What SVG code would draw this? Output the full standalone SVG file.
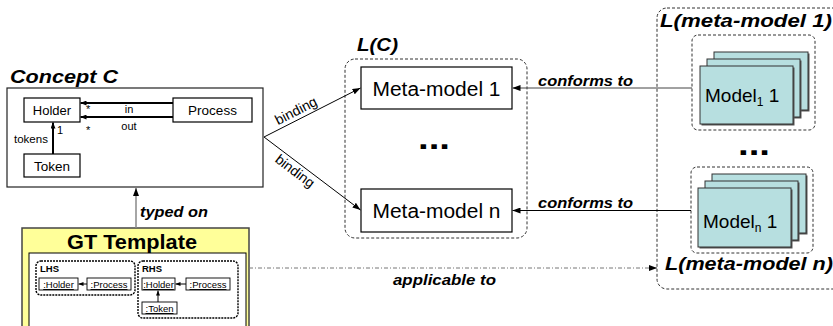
<svg xmlns="http://www.w3.org/2000/svg" width="833" height="326" viewBox="0 0 833 326">
  <defs>
    <marker id="arr" viewBox="0 0 8 6" refX="8" refY="3" markerWidth="8" markerHeight="6" markerUnits="userSpaceOnUse" orient="auto">
      <path d="M0,0 L8,3 L0,6 z" fill="#000"/>
    </marker>
    <marker id="arrS" viewBox="0 0 6 5" refX="6" refY="2.5" markerWidth="6" markerHeight="5" markerUnits="userSpaceOnUse" orient="auto">
      <path d="M0,0 L6,2.5 L0,5 z" fill="#000"/>
    </marker>
    <marker id="arrT" viewBox="0 0 5 4" refX="5" refY="2" markerWidth="5" markerHeight="4" markerUnits="userSpaceOnUse" orient="auto">
      <path d="M0,0 L5,2 L0,4 z" fill="#000"/>
    </marker>
  </defs>
  <style>
    text{font-family:"Liberation Sans",Arial,Helvetica,sans-serif;fill:#000}
    .bi{font-weight:bold;font-style:italic}
    .box{fill:#fff;stroke:#000;stroke-width:1.2}
    .dash{fill:none;stroke:#333;stroke-width:1;stroke-dasharray:3 2}
    .dot{fill:none;stroke:#000;stroke-width:1.4;stroke-dasharray:2 1}
    .card{fill:#b7dfe0;stroke:#333;stroke-width:1}
    .shadow{fill:#555}
    .sm{fill:#fff;stroke:#000;stroke-width:0.9}
    .u{font-size:9.5px;text-decoration:underline}
    .line{fill:none;stroke:#000;stroke-width:1}
  </style>

  <rect width="833" height="326" fill="#fff"/>

  <!-- Concept C -->
  <g id="concept-c">
    <text class="bi" x="10" y="83" font-size="18" textLength="108" lengthAdjust="spacingAndGlyphs">Concept C</text>
    <rect x="7" y="88" width="256" height="99" fill="#fff" stroke="#222" stroke-width="1.2"/>
    <rect class="box" x="24" y="98" width="56" height="24"/>
    <text x="52" y="115" font-size="13" text-anchor="middle">Holder</text>
    <rect class="box" x="173" y="98" width="79" height="24"/>
    <text x="212.5" y="115" font-size="13.5" text-anchor="middle">Process</text>
    <rect class="box" x="24" y="154" width="56" height="23"/>
    <text x="52" y="171" font-size="13.5" text-anchor="middle">Token</text>
    <g stroke="#000" stroke-width="2" fill="none">
      <line x1="173" y1="103" x2="80.5" y2="103" marker-end="url(#arrS)"/>
      <line x1="173" y1="117" x2="80.5" y2="117" marker-end="url(#arrS)"/>
      <line x1="53" y1="154" x2="53" y2="122.5" marker-end="url(#arrS)"/>
    </g>
    <text x="129" y="113" font-size="11" text-anchor="middle">in</text>
    <text x="129" y="130" font-size="11" text-anchor="middle">out</text>
    <text x="86" y="113" font-size="11">*</text>
    <text x="86" y="134" font-size="11">*</text>
    <text x="57" y="134" font-size="11">1</text>
    <text x="14" y="143" font-size="11.5">tokens</text>
  </g>

  <!-- GT Template -->
  <g id="gt-template">
    <rect x="22" y="228" width="227" height="110" fill="#ffff99" stroke="#444" stroke-width="1.5"/>
    <text x="132" y="249" font-size="20" font-weight="bold" text-anchor="middle" textLength="130" lengthAdjust="spacingAndGlyphs">GT Template</text>
    <rect x="29" y="253" width="217" height="90" fill="#fff" stroke="#000" stroke-width="1"/>
    <g id="lhs">
      <rect class="dot" x="36" y="261" width="99" height="34" rx="5"/>
      <text x="40" y="272" font-size="9.5" font-weight="bold">LHS</text>
      <rect class="sm" x="39" y="278" width="39" height="12"/>
      <text class="u" x="58.5" y="288" text-anchor="middle">:Holder</text>
      <rect class="sm" x="87" y="278" width="44" height="12"/>
      <text class="u" x="109" y="288" text-anchor="middle">:Process</text>
      <line class="line" x1="87" y1="284" x2="78.5" y2="284" marker-end="url(#arrT)"/>
    </g>
    <g id="rhs">
      <rect class="dot" x="138" y="261" width="100" height="57" rx="5"/>
      <text x="142" y="272" font-size="9.5" font-weight="bold">RHS</text>
      <rect class="sm" x="142" y="278" width="33" height="12"/>
      <text class="u" x="158.5" y="288" text-anchor="middle">:Holder</text>
      <rect class="sm" x="186" y="278" width="44" height="12"/>
      <text class="u" x="208" y="288" text-anchor="middle">:Process</text>
      <rect class="sm" x="142" y="302" width="35" height="12"/>
      <text class="u" x="159.5" y="312" text-anchor="middle">:Token</text>
      <line class="line" x1="186" y1="284" x2="175.5" y2="284" marker-end="url(#arrT)"/>
      <line class="line" x1="158" y1="302" x2="158" y2="290.5" marker-end="url(#arrT)"/>
    </g>
  </g>

  <!-- L(C): family of meta-models -->
  <g id="lc">
    <text class="bi" x="357" y="51" font-size="19" textLength="41" lengthAdjust="spacingAndGlyphs">L(C)</text>
    <rect class="dash" x="345" y="59" width="182" height="179" rx="10"/>
    <text x="418" y="148.5" font-size="32" font-weight="bold" textLength="32" lengthAdjust="spacingAndGlyphs">...</text>
  </g>
  <g id="meta-model-1">
    <rect class="box" x="361" y="67" width="151" height="42"/>
    <text x="436.5" y="96" font-size="20" text-anchor="middle" textLength="128" lengthAdjust="spacingAndGlyphs">Meta-model 1</text>
  </g>
  <g id="meta-model-n">
    <rect class="box" x="361" y="189" width="151" height="43"/>
    <text x="436.5" y="218" font-size="20" text-anchor="middle" textLength="128" lengthAdjust="spacingAndGlyphs">Meta-model n</text>
  </g>

  <!-- model languages -->
  <g id="l-meta-models">
    <rect class="dash" x="657" y="8" width="200" height="281" rx="10"/>
    <text class="bi" x="660" y="27" font-size="19" textLength="172" lengthAdjust="spacingAndGlyphs">L(meta-model 1)</text>
    <text x="738" y="154.5" font-size="32" font-weight="bold" textLength="32" lengthAdjust="spacingAndGlyphs">...</text>
    <text class="bi" x="665" y="270" font-size="19" textLength="168" lengthAdjust="spacingAndGlyphs">L(meta-model n)</text>
  </g>
  <g id="models-1">
    <rect class="dash" x="692" y="35" width="123" height="95" rx="6"/>
    <rect class="shadow" x="715.5" y="53.5" width="94" height="58"/>
    <rect class="card" x="714" y="52" width="94" height="58"/>
    <rect class="shadow" x="708.5" y="60.5" width="93" height="58"/>
    <rect class="card" x="707" y="59" width="93" height="58"/>
    <rect class="shadow" x="701.5" y="67.5" width="93" height="58"/>
    <rect class="card" x="700" y="66" width="93" height="58"/>
    <text x="705" y="102" font-size="19">Model<tspan font-size="12" dy="4">1</tspan><tspan dy="-4"> 1</tspan></text>
  </g>
  <g id="models-n">
    <rect class="dash" x="691" y="167" width="122" height="86" rx="6"/>
    <rect class="shadow" x="713.5" y="175.5" width="94" height="59"/>
    <rect class="card" x="712" y="174" width="94" height="59"/>
    <rect class="shadow" x="706.5" y="182.5" width="93" height="59"/>
    <rect class="card" x="705" y="181" width="93" height="59"/>
    <rect class="shadow" x="699.5" y="189.5" width="93" height="59"/>
    <rect class="card" x="698" y="188" width="93" height="59"/>
    <text x="703" y="228" font-size="19">Model<tspan font-size="12" dy="4">n</tspan><tspan dy="-4"> 1</tspan></text>
  </g>

  <!-- connectors -->
  <g id="connectors">
    <line x1="136" y1="228" x2="136" y2="188" stroke="#888" stroke-width="1.5" marker-end="url(#arr)"/>
    <text class="bi" x="140" y="217" font-size="15" textLength="68" lengthAdjust="spacingAndGlyphs">typed on</text>

    <line class="line" x1="264" y1="137" x2="360.5" y2="88" marker-end="url(#arr)"/>
    <line class="line" x1="264" y1="137" x2="360.5" y2="210" marker-end="url(#arr)"/>
    <g transform="translate(300,118.5) rotate(-27)">
      <text x="0" y="-4" font-size="14" text-anchor="middle">binding</text>
    </g>
    <g transform="translate(300,164.5) rotate(37)">
      <text x="0" y="13" font-size="14" text-anchor="middle">binding</text>
    </g>

    <line x1="692" y1="88" x2="512.5" y2="88" stroke="#444" stroke-width="1" marker-end="url(#arr)"/>
    <text class="bi" x="538" y="86" font-size="14" textLength="95" lengthAdjust="spacingAndGlyphs">conforms to</text>
    <line x1="691" y1="210.5" x2="512.5" y2="210.5" stroke="#000" stroke-width="1" marker-end="url(#arr)"/>
    <text class="bi" x="538" y="208" font-size="14" textLength="95" lengthAdjust="spacingAndGlyphs">conforms to</text>

    <line x1="249" y1="268" x2="657" y2="268" stroke="#777" stroke-width="1" stroke-dasharray="4 2 1 2" marker-end="url(#arr)"/>
    <text class="bi" x="393" y="285" font-size="15" textLength="103" lengthAdjust="spacingAndGlyphs">applicable to</text>
  </g>
</svg>
